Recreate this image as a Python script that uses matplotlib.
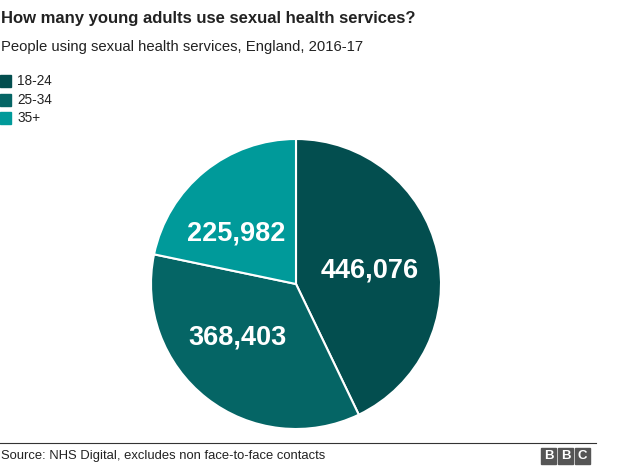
import numpy as np
import matplotlib.pyplot as plt
from matplotlib.patches import Rectangle

# data
groups = ["18-24", "25-34", "35+"]
people = [446076, 368403, 225982]
colors = ["#034e4f", "#056565", "#009a9a"]

W, H = 624, 467
fig = plt.figure(figsize=(W / 100, H / 100), dpi=100)
plt.rcParams['font.family'] = ['Liberation Sans', 'DejaVu Sans']

# pie axes: centre (296, 284), radius ~145 px
r = 145
ax = fig.add_axes([(296 - r) / W, 1 - (284 + r) / H, 2 * r / W, 2 * r / H])
wedges, _ = ax.pie(people, colors=colors, startangle=90, counterclock=False,
                   wedgeprops=dict(edgecolor="white", linewidth=1.5))
ax.set_xlim(-1, 1)
ax.set_ylim(-1, 1)
ax.set_aspect("equal")

# value labels inside slices
for w, v in zip(wedges, people):
    mid = np.deg2rad((w.theta1 + w.theta2) / 2)
    ax.text(0.57 * np.cos(mid) - 0.05, 0.46 * np.sin(mid) - 0.01, f"{v:,}",
            ha="center", va="center", color="white", fontsize=19.5, fontweight="bold")

# title and subtitle
fig.text(1 / W, 1 - 18 / H, "How many young adults use sexual health services?",
         fontsize=12, fontweight="bold", color="#222222", va="center")
fig.text(1 / W, 1 - 47 / H, "People using sexual health services, England, 2016-17",
         fontsize=10.7, color="#222222", va="center")

# legend
for i, (g, c) in enumerate(zip(groups, colors)):
    y = 81 + i * 18.5
    fig.patches.append(Rectangle((0, 1 - (y + 6) / H), 11 / W, 12 / H,
                                 transform=fig.transFigure, color=c))
    fig.text(17 / W, 1 - y / H, g, fontsize=9.8, color="#222222", va="center")

# footer
fig.add_artist(plt.Line2D([0, 596 / W], [1 - 443 / H] * 2, color="#333333", lw=0.8))
fig.text(1 / W, 1 - 456 / H, "Source: NHS Digital, excludes non face-to-face contacts",
         fontsize=9.4, color="#222222", va="center")
for i, letter in enumerate("BBC"):
    x0 = 541 + i * 17
    fig.patches.append(Rectangle((x0 / W, 1 - 464 / H), 15 / W, 16 / H,
                                 transform=fig.transFigure, color="#555555"))
    fig.text((x0 + 7.5) / W, 1 - 456 / H, letter, fontsize=9.5, fontweight="bold",
             color="white", ha="center", va="center")

fig.savefig("out.png", dpi=100, facecolor="white")
